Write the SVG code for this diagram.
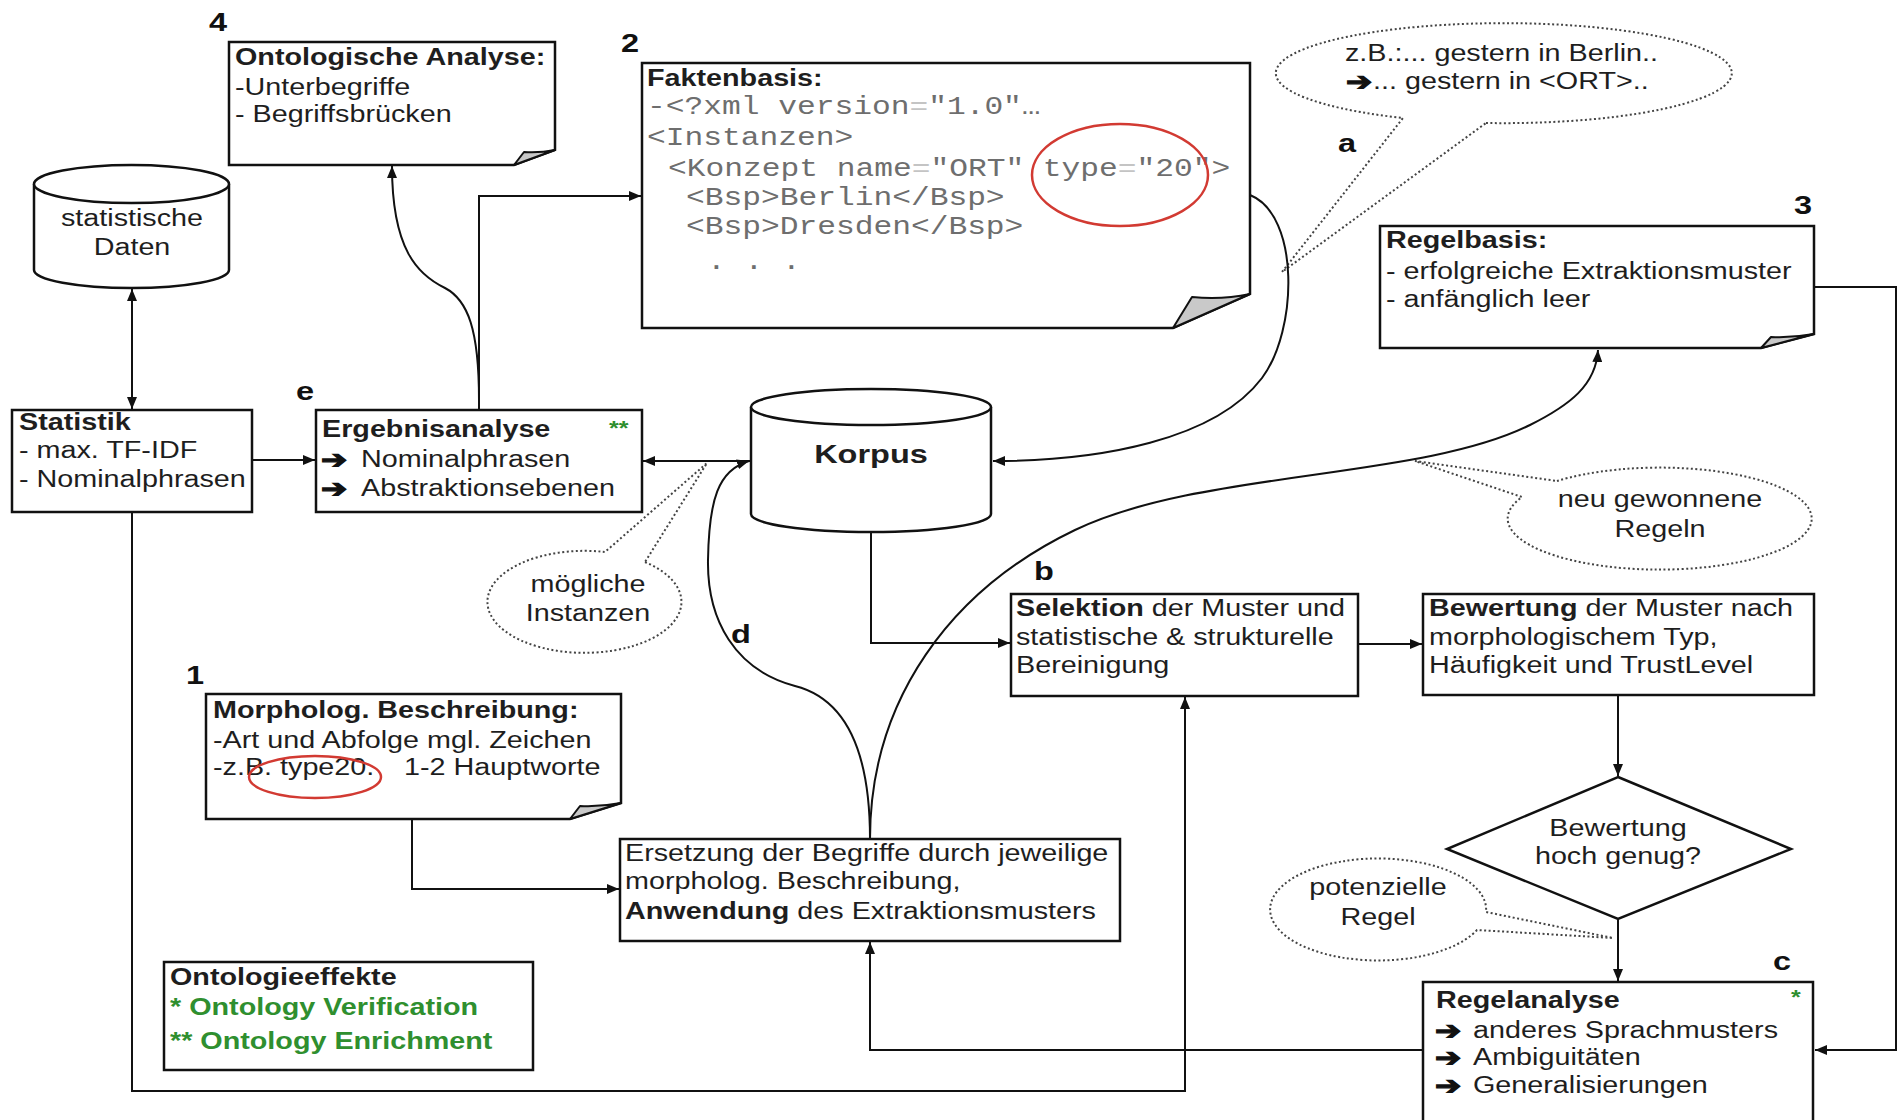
<svg xmlns="http://www.w3.org/2000/svg" width="1899" height="1120" viewBox="0 0 1899 1120">
<style>
  text { font-family: "Liberation Sans", Arial, sans-serif; font-size: 23px; fill: #1e1e1e; }
  .b { font-weight: bold; }
  .lbl { font-weight: bold; font-size: 26px; text-anchor: middle; fill: #111; }
  .mid { text-anchor: middle; }
  .mono { font-family: "Liberation Mono", "Courier New", monospace; font-size: 25px; fill: #6e6e6e; }
  .eq { fill: #c4c4c4; }
  .grn { fill: #2f8f2f; font-weight: bold; }
  .star { fill: #2f8f2f; font-weight: bold; font-size: 20px; }
  .arw { font-family: "DejaVu Sans", sans-serif; font-size: 25px; font-weight: bold; fill: #111; stroke: #111; stroke-width: 1.3; }
  .box { fill: #fff; stroke: #111; stroke-width: 2.5; }
  .ear { fill: #c9c9c9; stroke: #111; stroke-width: 2; stroke-linejoin: round; }
  .con { fill: none; stroke: #111; stroke-width: 2; }
  .bub { fill: none; stroke: #444; stroke-width: 2; stroke-dasharray: 2 2.5; }
  .ring { fill: none; stroke: #d23a32; stroke-width: 2.5; }
</style>
<defs>
  <marker id="ah" viewBox="0 0 12 10" refX="12" refY="5" markerWidth="12" markerHeight="10" markerUnits="userSpaceOnUse" orient="auto-start-reverse">
    <path d="M0,0 L12,5 L0,10 Z" fill="#111"/>
  </marker>
</defs>
<rect width="1899" height="1120" fill="#fff"/>

<!-- 4: ontological analysis note -->
<g id="n-ontologie">
  <path class="box" d="M229,42 H555 V150 L514,165 H229 Z"/>
  <path class="ear" d="M514,165 L524,152 Q540,153 555,150 Z"/>
  <text transform="matrix(1.25 0 0 1 235 65)"><tspan class="b">Ontologische Analyse:</tspan><tspan x="0" y="30">-Unterbegriffe</tspan><tspan x="0" y="57">- Begriffsbrücken</tspan></text>
  <text class="lbl" transform="matrix(1.25 0 0 1 218 31)">4</text>
</g>

<!-- 2: fact base note with XML sample -->
<g id="n-fakten">
  <path class="box" d="M642,63 H1250 V294 L1173,328 H642 Z"/>
  <path class="ear" d="M1173,328 L1192,297 Q1222,300 1250,294 Z"/>
  <text class="b" transform="matrix(1.25 0 0 1 647 86)">Faktenbasis:</text>
  <text class="mono" transform="matrix(1.25 0 0 1 647 114)">-&lt;?xml version<tspan class="eq">=</tspan>"1.0"…</text>
  <text class="mono" transform="matrix(1.25 0 0 1 647 145)">&lt;Instanzen&gt;</text>
  <text class="mono" transform="matrix(1.25 0 0 1 668 176)">&lt;Konzept name<tspan class="eq">=</tspan>"ORT" type<tspan class="eq">=</tspan>"20"&gt;</text>
  <text class="mono" transform="matrix(1.25 0 0 1 686 205)">&lt;Bsp&gt;Berlin&lt;/Bsp&gt;</text>
  <text class="mono" transform="matrix(1.25 0 0 1 686 234)">&lt;Bsp&gt;Dresden&lt;/Bsp&gt;</text>
  <text class="mono" transform="matrix(1.25 0 0 1 707 269)">. . .</text>
  <ellipse class="ring" cx="1120" cy="175" rx="88" ry="51"/>
  <text class="lbl" transform="matrix(1.25 0 0 1 630 52)">2</text>
</g>

<!-- 3: rule base note -->
<g id="n-regelbasis">
  <path class="box" d="M1380,226 H1814 V334 L1761,348 H1380 Z"/>
  <path class="ear" d="M1761,348 L1771,337 Q1792,338 1814,334 Z"/>
  <text transform="matrix(1.25 0 0 1 1386 248)"><tspan class="b">Regelbasis:</tspan><tspan x="0" y="31">- erfolgreiche Extraktionsmuster</tspan><tspan x="0" y="59">- anfänglich leer</tspan></text>
  <text class="lbl" transform="matrix(1.25 0 0 1 1803 214)">3</text>
</g>

<!-- statistics database -->
<g id="n-statdaten">
  <path class="box" d="M34,184 V270 A97.5,18 0 0 0 229,270 V184"/>
  <ellipse class="box" cx="131.5" cy="184" rx="97.5" ry="19"/>
  <text class="mid" transform="matrix(1.25 0 0 1 132 226)">statistische</text>
  <text class="mid" transform="matrix(1.25 0 0 1 132 255)">Daten</text>
</g>

<!-- statistics box -->
<g id="n-statistik">
  <rect class="box" x="12" y="410" width="240" height="102"/>
  <text transform="matrix(1.25 0 0 1 19 430)"><tspan class="b">Statistik</tspan><tspan x="0" y="28">- max. TF-IDF</tspan><tspan x="0" y="57">- Nominalphrasen</tspan></text>
</g>

<!-- e: result analysis -->
<g id="n-ergebnis">
  <rect class="box" x="316" y="410" width="326" height="102"/>
  <text class="b" transform="matrix(1.25 0 0 1 322 437)">Ergebnisanalyse</text>
  <text class="arw" transform="matrix(1.25 0 0 1 321 468)">➔</text>
  <text transform="matrix(1.25 0 0 1 361 467)">Nominalphrasen</text>
  <text class="arw" transform="matrix(1.25 0 0 1 321 497)">➔</text>
  <text transform="matrix(1.25 0 0 1 361 496)">Abstraktionsebenen</text>
  <text class="star" transform="matrix(1.25 0 0 1 609 435)">**</text>
  <text class="lbl" transform="matrix(1.25 0 0 1 305 400)">e</text>
</g>

<!-- corpus database -->
<g id="n-korpus">
  <path class="box" d="M751,407 V514 A120,18 0 0 0 991,514 V407"/>
  <ellipse class="box" cx="871" cy="407" rx="120" ry="18"/>
  <text class="b mid" style="font-size:26px" transform="matrix(1.25 0 0 1 871 463)">Korpus</text>
</g>

<!-- b: pattern selection -->
<g id="n-selektion">
  <rect class="box" x="1011" y="594" width="347" height="102"/>
  <text transform="matrix(1.25 0 0 1 1016 616)"><tspan class="b">Selektion</tspan> der Muster und<tspan x="0" y="29">statistische &amp; strukturelle</tspan><tspan x="0" y="57">Bereinigung</tspan></text>
  <text class="lbl" transform="matrix(1.25 0 0 1 1044 580)">b</text>
</g>

<!-- pattern rating -->
<g id="n-bewertung">
  <rect class="box" x="1423" y="594" width="391" height="101"/>
  <text transform="matrix(1.25 0 0 1 1429 616)"><tspan class="b">Bewertung</tspan> der Muster nach<tspan x="0" y="29">morphologischem Typ,</tspan><tspan x="0" y="57">Häufigkeit und TrustLevel</tspan></text>
</g>

<!-- decision -->
<g id="n-entscheidung">
  <polygon class="box" points="1618,777 1791,849 1618,919 1447,849"/>
  <text class="mid" transform="matrix(1.25 0 0 1 1618 836)">Bewertung</text>
  <text class="mid" transform="matrix(1.25 0 0 1 1618 864)">hoch genug?</text>
</g>

<!-- c: rule analysis -->
<g id="n-regelanalyse">
  <rect class="box" x="1423" y="982" width="390" height="145"/>
  <text class="b" transform="matrix(1.25 0 0 1 1436 1008)">Regelanalyse</text>
  <text class="arw" transform="matrix(1.25 0 0 1 1435 1039)">➔</text>
  <text transform="matrix(1.25 0 0 1 1473 1038)">anderes Sprachmusters</text>
  <text class="arw" transform="matrix(1.25 0 0 1 1435 1066)">➔</text>
  <text transform="matrix(1.25 0 0 1 1473 1065)">Ambiguitäten</text>
  <text class="arw" transform="matrix(1.25 0 0 1 1435 1094)">➔</text>
  <text transform="matrix(1.25 0 0 1 1473 1093)">Generalisierungen</text>
  <text class="star" transform="matrix(1.25 0 0 1 1791 1004)">*</text>
  <text class="lbl" transform="matrix(1.25 0 0 1 1782 970)">c</text>
</g>

<!-- 1: morphological description note -->
<g id="n-morpholog">
  <path class="box" d="M206,694 H621 V803 L570,819 H206 Z"/>
  <path class="ear" d="M570,819 L580,806 Q600,807 621,803 Z"/>
  <text transform="matrix(1.25 0 0 1 213 718)"><tspan class="b">Morpholog. Beschreibung:</tspan><tspan x="0" y="30">-Art und Abfolge mgl. Zeichen</tspan><tspan x="0" y="57">-z.B. type20.</tspan></text>
  <text transform="matrix(1.25 0 0 1 404 775)">1-2 Hauptworte</text>
  <ellipse class="ring" cx="315" cy="777" rx="66" ry="21"/>
  <text class="lbl" transform="matrix(1.25 0 0 1 195 684)">1</text>
</g>

<!-- term replacement / pattern application -->
<g id="n-ersetzung">
  <rect class="box" x="620" y="839" width="500" height="102"/>
  <text transform="matrix(1.25 0 0 1 625 861)">Ersetzung der Begriffe durch jeweilige<tspan x="0" y="28">morpholog. Beschreibung,</tspan><tspan x="0" y="58"><tspan class="b">Anwendung</tspan> des Extraktionsmusters</tspan></text>
</g>

<!-- legend -->
<g id="n-legende">
  <rect class="box" x="164" y="962" width="369" height="108"/>
  <text class="b" transform="matrix(1.25 0 0 1 170 985)">Ontologieeffekte</text>
  <text class="grn" transform="matrix(1.25 0 0 1 170 1015)">* Ontology Verification</text>
  <text class="grn" transform="matrix(1.25 0 0 1 170 1049)">** Ontology Enrichment</text>
</g>

<!-- callout bubbles -->
<g id="bub-beispiel">
  <path class="bub" d="M1486,123 A228,50 0 1 0 1403,118 L1282,272 Z"/>
  <text transform="matrix(1.25 0 0 1 1345 61)">z.B.:... gestern in Berlin..</text>
  <text class="arw" transform="matrix(1.25 0 0 1 1346 90)">➔</text>
  <text transform="matrix(1.25 0 0 1 1373 89)">... gestern in &lt;ORT&gt;..</text>
</g>
<g id="bub-regeln">
  <path class="bub" d="M1557,481 A152,51 0 1 1 1522,497 L1415,461 Z"/>
  <text class="mid" transform="matrix(1.25 0 0 1 1660 507)">neu gewonnene</text>
  <text class="mid" transform="matrix(1.25 0 0 1 1660 537)">Regeln</text>
</g>
<g id="bub-instanzen">
  <path class="bub" d="M645,562 A97,51 0 1 1 605,552 L707,463 Z"/>
  <text class="mid" transform="matrix(1.25 0 0 1 588 592)">mögliche</text>
  <text class="mid" transform="matrix(1.25 0 0 1 588 621)">Instanzen</text>
</g>
<g id="bub-potenziell">
  <path class="bub" d="M1477,930 A108,51 0 1 1 1486,912 L1613,938 Z"/>
  <text class="mid" transform="matrix(1.25 0 0 1 1378 895)">potenzielle</text>
  <text class="mid" transform="matrix(1.25 0 0 1 1378 925)">Regel</text>
</g>

<!-- connectors -->
<g id="connectors">
  <path class="con" d="M132,289 V409" marker-start="url(#ah)" marker-end="url(#ah)"/>
  <path class="con" d="M252,460 H315" marker-end="url(#ah)"/>
  <path class="con" d="M479,410 V196 H641" marker-end="url(#ah)"/>
  <path class="con" d="M479,400 C479,330 468,300 445,288 C418,275 392,250 392,166" marker-end="url(#ah)"/>
  <path class="con" d="M751,461 H643" marker-end="url(#ah)"/>
  <path class="con" d="M1250,195 C1300,215 1298,330 1262,378 C1215,440 1100,461 993,461" marker-end="url(#ah)"/>
  <path class="con" d="M871,532 V643 H1010" marker-end="url(#ah)"/>
  <path class="con" d="M870,839 C870,760 850,700 795,686 C735,670 707,620 708,560 C709,500 718,470 749,461" marker-end="url(#ah)"/>
  <path class="con" d="M870,839 C870,700 950,590 1075,530 C1200,470 1420,480 1530,425 C1570,405 1596,385 1598,350" marker-end="url(#ah)"/>
  <path class="con" d="M1358,644 H1422" marker-end="url(#ah)"/>
  <path class="con" d="M1618,695 V776" marker-end="url(#ah)"/>
  <path class="con" d="M1618,919 V981" marker-end="url(#ah)"/>
  <path class="con" d="M1814,287 H1896 V1050 H1815" marker-end="url(#ah)"/>
  <path class="con" d="M1423,1050 H870 V942" marker-end="url(#ah)"/>
  <path class="con" d="M132,512 V1091 H1185 V697" marker-end="url(#ah)"/>
  <path class="con" d="M412,819 V889 H619" marker-end="url(#ah)"/>
  <text class="lbl" transform="matrix(1.25 0 0 1 1347 152)">a</text>
  <text class="lbl" transform="matrix(1.25 0 0 1 741 643)">d</text>
</g>
</svg>
